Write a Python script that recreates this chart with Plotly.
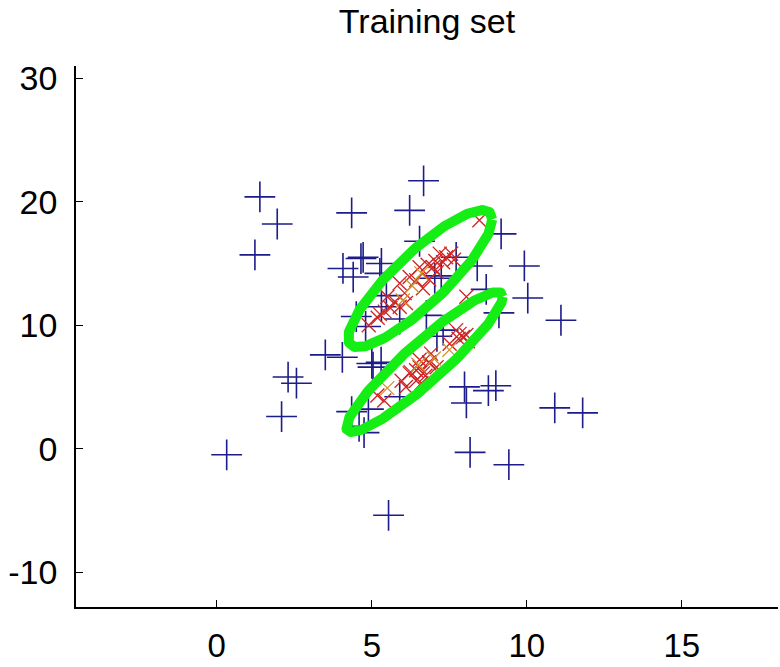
import numpy as np
import plotly.graph_objects as go

# ---- data ----
blue_x = [0.32, 1.39, 1.95, 1.23, 2.30, 2.57, 2.09, 3.50, 4.05, 5.00, 5.30, 4.89, 5.90, 4.35,
          4.59, 7.99, 8.05, 8.76, 9.00, 10.9, 11.8, 8.17, 9.42, 5.54, 6.67, 4.35, 6.22, 9.17,
          6.54, 9.92, 4.72, 5.31, 4.07, 4.40, 5.26, 7.72, 8.40, 10.03, 7.24, 4.80, 5.31, 6.76,
          8.69, 9.10, 11.1, 7.30, 5.47, 7.10, 5.04, 4.50, 5.90, 4.75, 4.65, 7.03]
blue_y = [-0.5, 20.4, 18.2, 15.7, 5.8, 5.3, 2.6, 7.6, 7.4, 6.9, 7.0, 3.2, 4.2, 3.0,
          1.8, 5.0, 3.7, 4.7, 5.1, 3.3, 2.9, -0.3, -1.3, -5.4, 21.7, 19.1, 19.3, 17.4,
          16.8, 14.8, 15.5, 15.0, 14.6, 13.9, 14.2, 15.5, 14.8, 12.2, 14.0, 9.9, 11.5, 10.8,
          12.9, 11.0, 10.4, 9.6, 12.4, 9.1, 6.6, 10.7, 10.5, 1.3, 15.4, 13.8]

red_x = [8.47, 7.56, 7.40, 7.19, 7.30, 7.05, 6.97, 6.80, 6.54, 6.43, 6.22, 6.65, 5.90, 6.06,
         5.74, 5.42, 5.19, 5.90, 6.10, 5.26, 5.50, 7.65, 7.10, 6.85, 4.90, 5.60,
         8.05, 7.94, 7.72, 7.51, 8.10, 7.83, 6.54, 6.43, 6.22, 6.86, 6.65, 5.18, 5.96, 6.25,
         6.54, 6.85, 6.73, 6.91, 7.80, 8.05, 6.43, 7.09, 5.40, 6.10, 6.60]
red_y = [18.5, 15.8, 15.5, 15.8, 15.1, 15.2, 14.7, 14.9, 14.7, 13.65, 13.9, 13.0, 13.4, 12.6,
         11.9, 11.1, 10.6, 11.5, 11.8, 10.9, 12.3, 15.3, 14.3, 13.7, 10.0, 11.4,
         12.3, 9.05, 9.6, 8.5, 8.7, 9.3, 7.2, 6.35, 6.1, 6.9, 6.1, 4.3, 5.5, 6.2,
         6.6, 7.0, 5.9, 7.7, 8.9, 9.2, 5.5, 6.6, 3.9, 5.0, 5.3]

orange_x = [6.60, 6.30, 7.00, 6.50, 5.50, 7.50, 6.00]
orange_y = [14.2, 13.2, 7.3, 6.8, 4.9, 8.0, 12.0]

# Gaussian components (mean, covariance) whose contours are drawn in green
comp_means = [[6.56, 13.77], [6.70, 7.02]]
comp_covs = [[[5.40, 11.16], [11.16, 30.86]],
             [[6.35, 13.29], [13.29, 32.20]]]

x_ticks = [0, 5, 10, 15]
x_tick_labels = ["0", "5", "10", "15"]
y_ticks = [-10, 0, 10, 20, 30]
y_tick_labels = ["-10", "0", "10", "20", "30"]
title_text = "Training set"

# ---- figure ----
fig = go.Figure()
fig.add_trace(go.Scatter(x=blue_x, y=blue_y, mode="markers",
                         marker=dict(symbol="cross-thin", size=22, color="#1c1c8a",
                                     line=dict(color="#1c1c8a", width=1.6))))
fig.add_trace(go.Scatter(x=red_x, y=red_y, mode="markers",
                         marker=dict(symbol="x-thin", size=14, color="#d02424",
                                     line=dict(color="#d02424", width=1.3))))
fig.add_trace(go.Scatter(x=orange_x, y=orange_y, mode="markers",
                         marker=dict(symbol="x-thin", size=14, color="#d0902c",
                                     line=dict(color="#d0902c", width=1.3))))

t = np.linspace(0, 2 * np.pi, 240)
for m, c in zip(comp_means, comp_covs):
    L = np.linalg.cholesky(np.array(c))
    pts = L @ np.vstack([np.cos(t), np.sin(t)])
    fig.add_trace(go.Scatter(x=m[0] + pts[0], y=m[1] + pts[1], mode="lines",
                             line=dict(color="#14ee14", width=10)))

font = "Liberation Sans, Arial, Helvetica, sans-serif"
fig.update_layout(
    width=780, height=667, showlegend=False,
    paper_bgcolor="white", plot_bgcolor="white",
    margin=dict(l=76, r=2, t=66, b=60),
    title=dict(text=title_text, x=0.5, xref="paper", xanchor="center",
               y=0.968, yref="container", yanchor="middle",
               font=dict(family=font, size=34, color="black")),
    font=dict(family=font, size=34, color="black"),
)
fig.update_xaxes(range=[-4.54, 18.1], tickvals=x_ticks, ticktext=x_tick_labels,
                 ticks="inside", ticklen=7, automargin=False,
                 tickcolor="black", showline=True, linecolor="black", linewidth=1.5,
                 showgrid=False, zeroline=False, ticklabelstandoff=9,
                 tickfont=dict(family=font, size=33, color="black"))
fig.update_yaxes(range=[-12.83, 31.0], tickvals=y_ticks, ticktext=y_tick_labels,
                 ticks="inside", ticklen=7, automargin=False,
                 tickcolor="black", showline=True, linecolor="black", linewidth=1.5,
                 showgrid=False, zeroline=False, ticklabelstandoff=10,
                 tickfont=dict(family=font, size=34, color="black"))

fig.write_html("out.html")
